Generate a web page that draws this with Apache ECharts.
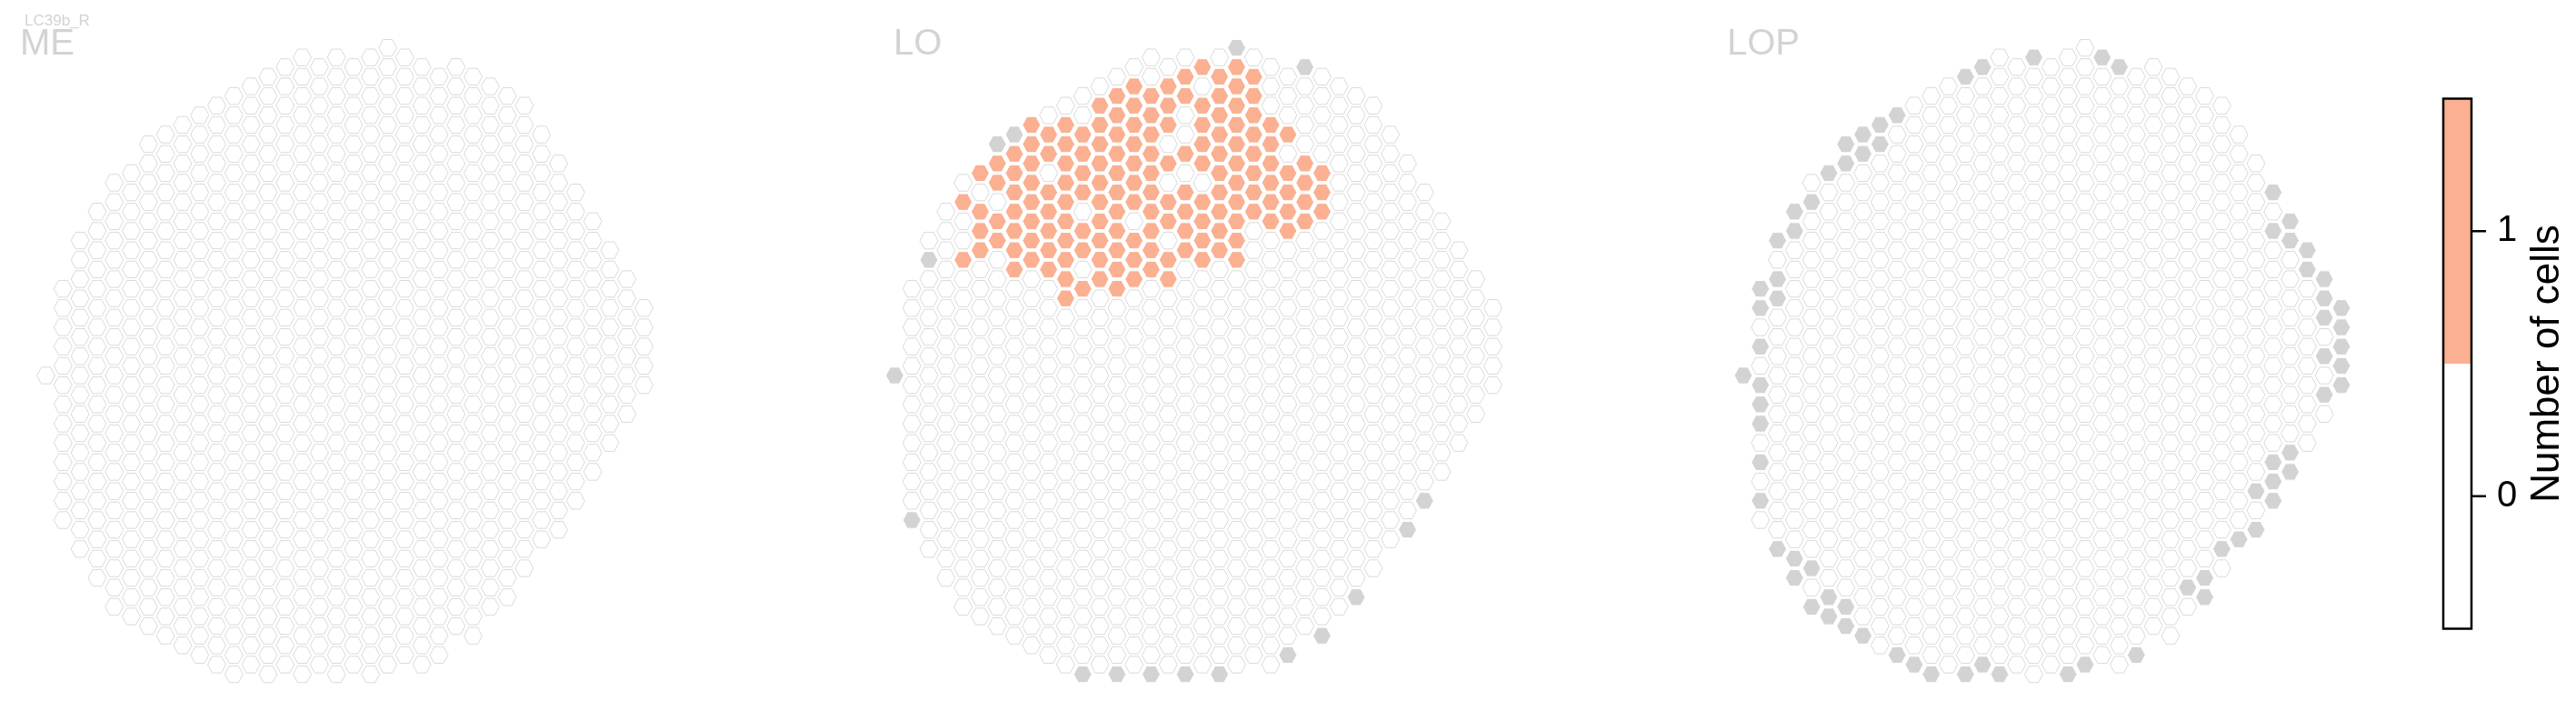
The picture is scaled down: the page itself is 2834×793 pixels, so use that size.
<!DOCTYPE html>
<html><head><meta charset="utf-8">
<script src="https://cdn.jsdelivr.net/npm/echarts@6/dist/echarts.min.js"></script>
<style>html,body{margin:0;padding:0;background:#fff}#c{width:2834px;height:793px}</style>
</head><body><div id="c"></div>
<script>
// ---- data (hex columns in half-row units) ----
const cellTypeName = 'LC39b_R';
const panelNames = ['ME', 'LO', 'LOP'];
// first / last half-row index of every hex column (column 0..35)
const colTop    = [0,-9,-14,-17,-20,-21,-24,-25,-26,-27,-28,-29,-30,-31,-32,-33,-32,-33,-32,-33,-34,-33,-32,-31,-32,-31,-30,-29,-28,-25,-22,-19,-16,-13,-10,-7];
const colBottom = [0,15,18,21,24,25,26,27,28,29,30,31,30,31,30,31,30,31,30,31,30,29,30,29,26,27,24,23,20,17,16,13,10,7,4,1];
// ME: no columns with cells
const meOneCells = {};
const meMissing = [];
// LO: columns holding 1 cell (column -> half-row indices)
const loOneCells = {
  4:[-18,-12],
  5:[-21,-17,-15,-13],
  6:[-22,-20,-16,-14],
  7:[-23,-21,-19,-17,-15,-13,-11],
  8:[-26,-24,-22,-20,-18,-16,-14,-12],
  9:[-25,-23,-19,-17,-15,-13,-11],
  10:[-26,-24,-22,-20,-18,-16,-14,-12,-10,-8],
  11:[-25,-23,-21,-19,-15,-13,-9],
  12:[-28,-26,-24,-22,-20,-18,-16,-14,-12,-10],
  13:[-29,-27,-25,-23,-21,-19,-17,-15,-13,-11,-9],
  14:[-30,-28,-26,-24,-22,-20,-18,-14,-12,-10],
  15:[-29,-27,-25,-23,-21,-19,-17,-15,-13,-11],
  16:[-30,-28,-26,-22,-18,-16,-12,-10],
  17:[-31,-29,-23,-19,-17,-15,-13],
  18:[-32,-28,-26,-24,-22,-18,-16,-14,-12],
  19:[-31,-29,-27,-25,-23,-21,-19,-17,-15,-13],
  20:[-32,-30,-28,-26,-24,-22,-20,-18,-16,-14,-12],
  21:[-31,-29,-27,-25,-23,-21,-19,-17],
  22:[-26,-24,-22,-20,-18,-16],
  23:[-25,-21,-19,-17,-15],
  24:[-22,-20,-18,-16],
  25:[-21,-19,-17]
};
// columns absent from the neuropil (grey)
const loMissing = [[0,0],[1,15],[2,-12],[6,-24],[7,-25],[20,-34],[24,-32],[31,13],[30,16],[27,23],[25,27],[23,29],[11,31],[13,31],[15,31],[17,31],[19,31]];
const lopOneCells = {};
const lopMissing = [[0,0],
  [1,-9],[1,-7],[1,-3],[1,1],[1,3],[1,5],[1,9],[1,13],
  [2,-14],[2,-10],[2,-8],[2,18],
  [3,-17],[3,-15],[3,19],[3,21],
  [4,-18],[4,20],[4,24],
  [5,-21],[5,23],[5,25],
  [6,-24],[6,-22],[6,24],[6,26],
  [7,-25],[7,-23],[7,27],
  [8,-26],[8,-24],
  [9,-27],[9,29],
  [10,30],[11,31],
  [13,-31],[13,31],
  [14,-32],[14,30],
  [15,31],[17,-33],[19,31],[20,30],[21,-33],[22,-32],[23,29],
  [26,22],[27,21],[27,23],[28,18],[29,17],[30,12],[30,16],
  [31,-19],[31,-15],[31,9],[31,11],[31,13],
  [32,-16],[32,-14],[32,8],[32,10],
  [33,-13],[33,-11],
  [34,-10],[34,-8],[34,-6],[34,-2],[34,2],
  [35,-7],[35,-5],[35,-3],[35,-1],[35,1]];
// colour bar
const legendBreaks = [-0.5, 0.5, 1.5];
const legendColors = ['#FFFFFF', '#FBB091'];
const legendTicks = [0, 1];
const legendTitle = 'Number of cells';

// ---- build ----
const ORANGE = '#FBB091', GREY = '#D3D3D3';
function buildPanel(oneCells, missing) {
  const miss = new Set(missing.map(d => d[0] + ',' + d[1]));
  const white = [], grey = [], filled = [];
  for (let c = 0; c < colTop.length; c++) {
    for (let v = colTop[c]; v <= colBottom[c]; v += 2) {
      const key = c + ',' + v;
      const n = (oneCells[c] && oneCells[c].indexOf(v) >= 0) ? 1 : 0;
      if (miss.has(key)) grey.push([c, v, n, 1]);
      else if (n > 0) filled.push([c, v, n, 0]);
      else white.push([c, v, n, 0]);
    }
  }
  return white.concat(grey, filled);
}
const panels = [buildPanel(meOneCells, meMissing), buildPanel(loOneCells, loMissing), buildPanel(lopOneCells, lopMissing)];

function renderHex(params, api) {
  const p = api.coord([api.value(0), api.value(1)]);
  const s = api.size([1, 1]);
  const hw = s[0] * 0.53, hh = s[1] * 0.865, q = hw / 2;
  const pts = [[p[0]-hw,p[1]],[p[0]-q,p[1]-hh],[p[0]+q,p[1]-hh],[p[0]+hw,p[1]],[p[0]+q,p[1]+hh],[p[0]-q,p[1]+hh]];
  const n = api.value(2), missing = api.value(3);
  let style;
  if (missing === 1) style = { fill: GREY, stroke: '#FFFFFF', lineWidth: 1 };
  else if (n >= 1) style = { fill: ORANGE, stroke: '#FFFFFF', lineWidth: 1 };
  else style = { fill: '#FFFFFF', stroke: '#DADADA', lineWidth: 1 };
  return { type: 'polygon', shape: { points: pts }, style: style };
}

const FONT = 'Liberation Sans, Arial, sans-serif';
const panelLeft = [31.7, 965.6, 1899.1];
const grids = [], xAxes = [], yAxes = [], series = [];
panelLeft.forEach((L, i) => {
  grids.push({ left: L, top: 31.4, width: 695.6, height: 731.4 });
  xAxes.push({ gridIndex: i, type: 'value', min: -1, max: 36, show: false });
  yAxes.push({ gridIndex: i, type: 'value', min: -36, max: 33, inverse: true, show: false });
  series.push({ type: 'custom', xAxisIndex: i, yAxisIndex: i, renderItem: renderHex,
    encode: { x: 0, y: 1 }, data: panels[i], silent: true });
});
// colour bar grid
grids.push({ left: 2688, top: 108.5, width: 31, height: 583 });
xAxes.push({ gridIndex: 3, type: 'value', min: 0, max: 1, show: false });
yAxes.push({ gridIndex: 3, type: 'value', min: legendBreaks[0], max: legendBreaks[legendBreaks.length-1],
  position: 'right', axisLine: { show: false }, splitLine: { show: false }, axisTick: { show: false },
  axisLabel: { customValues: legendTicks, margin: 28, color: '#000', fontSize: 40, fontFamily: FONT },
  name: legendTitle, nameLocation: 'middle', nameRotate: 90, nameGap: 62,
  nameTextStyle: { color: '#000', fontSize: 44, fontFamily: FONT } });
const legendSegs = legendColors.map((col, k) => [legendBreaks[k], legendBreaks[k+1], k]);
series.push({ type: 'custom', xAxisIndex: 3, yAxisIndex: 3, silent: true, encode: { y: [0, 1] },
  data: legendSegs,
  renderItem: (params, api) => {
    const a = api.coord([0, api.value(0)]), b = api.coord([1, api.value(1)]);
    return { type: 'rect', shape: { x: a[0], y: b[1], width: b[0]-a[0], height: a[1]-b[1] },
      style: { fill: legendColors[api.value(2)] } };
  } });
series.push({ type: 'custom', xAxisIndex: 3, yAxisIndex: 3, silent: true, encode: { y: [0, 1] },
  data: [[legendBreaks[0], legendBreaks[legendBreaks.length-1]]],
  renderItem: (params, api) => {
    const a = api.coord([0, api.value(0)]), b = api.coord([1, api.value(1)]);
    return { type: 'rect', z2: 10, shape: { x: a[0], y: b[1], width: b[0]-a[0], height: a[1]-b[1] },
      style: { fill: 'none', stroke: '#000', lineWidth: 2.5 } };
  } });
// colour bar ticks
series.push({ type: 'custom', xAxisIndex: 3, yAxisIndex: 3, silent: true, encode: { y: 0 },
  data: legendTicks.map(t => [t]),
  renderItem: (params, api) => {
    const p = api.coord([1, api.value(0)]);
    return { type: 'line', z2: 10, shape: { x1: p[0], y1: p[1], x2: p[0] + 16, y2: p[1] },
      style: { stroke: '#000', lineWidth: 2.5 } };
  } });

const graphic = [{ type: 'text', left: 27, top: 15, style: { text: cellTypeName, fill: '#D3D3D3', font: '17px ' + FONT } }];
const labelX = [22, 983, 1900];
panelNames.forEach((n, i) => graphic.push({ type: 'text', left: labelX[i], top: 29, style: { text: n, fill: '#D3D3D3', font: '40px ' + FONT } }));

const chart = echarts.init(document.getElementById('c'), null, { renderer: 'canvas' });
chart.setOption({ animation: false, backgroundColor: '#FFFFFF', grid: grids, xAxis: xAxes, yAxis: yAxes, series: series, graphic: graphic });
</script></body></html>
